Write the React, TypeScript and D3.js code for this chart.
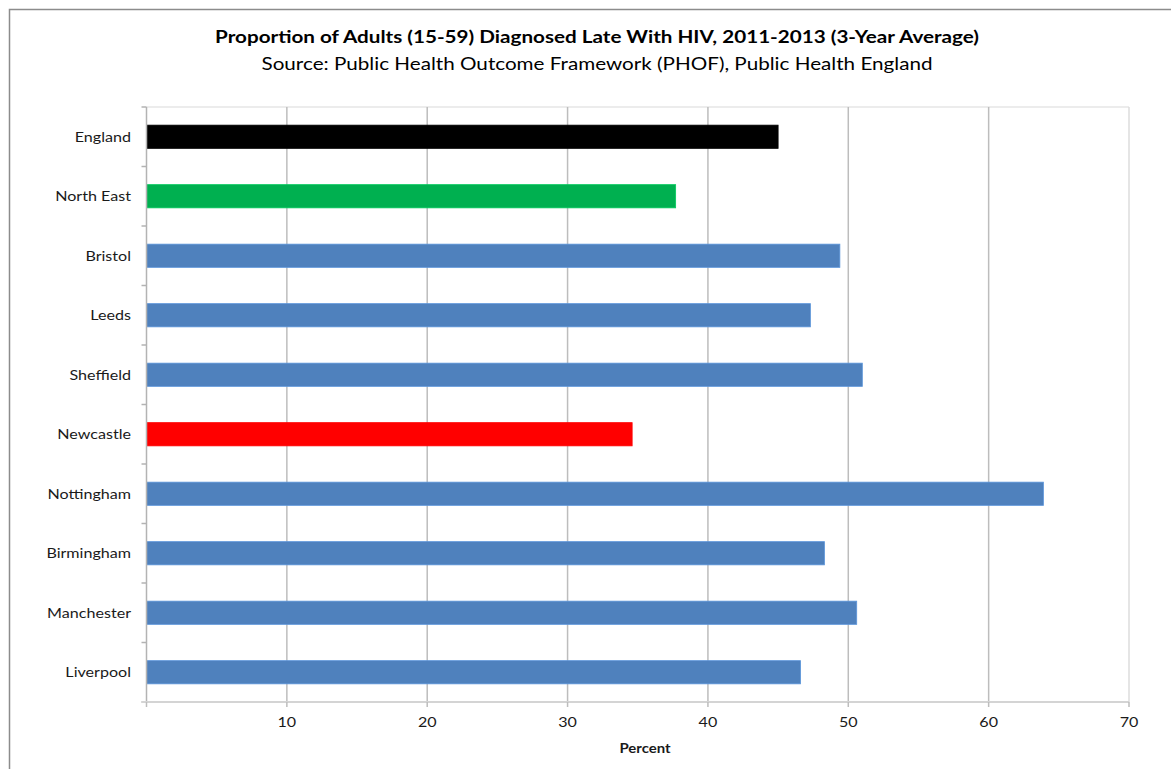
import React from 'react';
import * as d3 from 'd3';

// Late HIV diagnosis, adults aged 15-59, 2011-2013 three-year average (%)
const categories = [
  'England',
  'North East',
  'Bristol',
  'Leeds',
  'Sheffield',
  'Newcastle',
  'Nottingham',
  'Birmingham',
  'Manchester',
  'Liverpool',
];
const percentLate = [45.0, 37.7, 49.4, 47.3, 51.0, 34.6, 63.9, 48.3, 50.6, 46.6];
const xTickValues = [10, 20, 30, 40, 50, 60, 70];

const titleText = 'Proportion of Adults (15-59) Diagnosed Late With HIV, 2011-2013 (3-Year Average)';
const subtitleText = 'Source: Public Health Outcome Framework (PHOF), Public Health England';
const xAxisTitle = 'Percent';

// Special fills: national figure, the region, and the highlighted city
const specialFill: Record<string, string> = {
  England: '#000000',
  'North East': '#00b050',
  Newcastle: '#ff0000',
};
const defaultFill = '#4f81bd';

const W = 1171;
const H = 769;
const plot = { left: 146.5, right: 1129, top: 107, bottom: 702 };
const FONT = 'Lato, "Open Sans", sans-serif';
const TITLE_STRETCH = 1.215;
const LABEL_STRETCH = 1.15;

// Text placed at (x, y) and widened horizontally by `sx`
function Label(props: {
  x: number;
  y: number;
  sx: number;
  anchor: 'start' | 'middle' | 'end';
  size: number;
  weight?: number;
  fill?: string;
  dy?: string;
  children: React.ReactNode;
}) {
  const { x, y, sx, anchor, size, weight = 400, fill = '#1a1a1a', dy, children } = props;
  return (
    <text
      transform={`translate(${x},${y}) scale(${sx},1)`}
      textAnchor={anchor}
      fontSize={size}
      fontWeight={weight}
      fill={fill}
      dy={dy}
    >
      {children}
    </text>
  );
}

export default function App() {
  const x = d3.scaleLinear().domain([0, 70]).range([plot.left, plot.right]);
  const y = d3
    .scaleBand<string>()
    .domain(categories)
    .range([plot.top, plot.bottom])
    .paddingInner(0.61)
    .paddingOuter(0.305);

  const bandEdges = d3.range(categories.length + 1).map(
    (i) => plot.top + (i * (plot.bottom - plot.top)) / categories.length
  );

  return (
    <svg
      width={W}
      height={H}
      style={{ position: 'absolute', left: 0, top: 0, display: 'block', background: '#fff' }}
      fontFamily={FONT}
    >
      {/* chart frame */}
      <rect x={9.5} y={9.5} width={W + 20} height={H + 20} fill="#fff" stroke="#8c8c8c" strokeWidth={1.5} />

      {/* titles */}
      <Label x={597} y={43} sx={TITLE_STRETCH} anchor="middle" size={17} weight={700} fill="#000">
        {titleText}
      </Label>
      <Label x={597} y={70} sx={TITLE_STRETCH} anchor="middle" size={17} fill="#000">
        {subtitleText}
      </Label>

      {/* plot area top edge */}
      <line x1={plot.left} x2={plot.right} y1={plot.top} y2={plot.top} stroke="#e6e6e6" strokeWidth={1.5} />

      {/* vertical gridlines */}
      {xTickValues.map((t) => (
        <line
          key={'g' + t}
          x1={x(t)}
          x2={x(t)}
          y1={plot.top}
          y2={plot.bottom}
          stroke={t === 70 ? '#dcdcdc' : '#bdbdbd'}
          strokeWidth={1.5}
        />
      ))}

      {/* bars */}
      {categories.map((c, i) => (
        <rect
          key={c}
          x={x(0)}
          y={y(c)}
          width={x(percentLate[i]) - x(0)}
          height={y.bandwidth()}
          fill={specialFill[c] ?? defaultFill}
          stroke={d3.color(specialFill[c] ?? defaultFill)!.brighter(0.4).toString()}
          strokeWidth={0.8}
        />
      ))}

      {/* category axis */}
      <line x1={plot.left} x2={plot.left} y1={plot.top} y2={plot.bottom} stroke="#b3b3b3" strokeWidth={1.5} />
      {bandEdges.map((e, i) => (
        <line key={'yt' + i} x1={plot.left - 5} x2={plot.left} y1={e} y2={e} stroke="#b3b3b3" strokeWidth={1.5} />
      ))}
      {categories.map((c) => (
        <Label
          key={'l' + c}
          x={131}
          y={y(c)! + y.bandwidth() / 2}
          sx={LABEL_STRETCH}
          anchor="end"
          size={14}
          dy="0.35em"
        >
          {c}
        </Label>
      ))}

      {/* value axis */}
      <line x1={plot.left - 5} x2={plot.right} y1={plot.bottom} y2={plot.bottom} stroke="#d4d4d4" strokeWidth={2} />
      {[0, ...xTickValues].map((t) => (
        <line key={'xt' + t} x1={x(t)} x2={x(t)} y1={plot.bottom} y2={plot.bottom + 5} stroke="#bdbdbd" strokeWidth={1.5} />
      ))}
      {xTickValues.map((t) => (
        <Label key={'xl' + t} x={x(t)} y={727} sx={LABEL_STRETCH} anchor="middle" size={14}>
          {t}
        </Label>
      ))}
      <Label x={645} y={753} sx={LABEL_STRETCH} anchor="middle" size={13} weight={700}>
        {xAxisTitle}
      </Label>
    </svg>
  );
}
